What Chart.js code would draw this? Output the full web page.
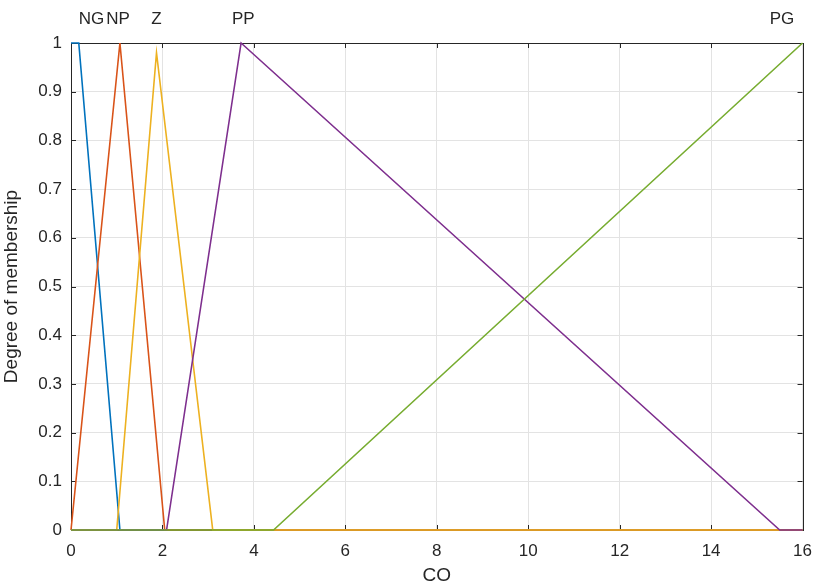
<!DOCTYPE html>
<html><head><meta charset="utf-8">
<script src="https://cdn.jsdelivr.net/npm/chart.js@4/dist/chart.umd.min.js"></script>
<style>html,body{margin:0;padding:0;background:#fff}#wrap{width:823px;height:588px;position:relative}</style>
</head><body><div id="wrap"><canvas id="c" width="823" height="588"></canvas></div>
<script>
// membership function names and their breakpoints (x = CO, y = degree of membership)
const mfNames = ['NG', 'NP', 'Z', 'PP', 'PG'];
const ngX = [0, 0.17, 1.07, 16];        const ngY = [1, 1, 0, 0];
const npX = [0, 1.07, 2.05, 16];        const npY = [0, 1, 0, 0];
const zX  = [0, 1.0, 1.87, 3.1, 16];    const zY  = [0, 0, 0.98, 0, 0];
const ppX = [0, 2.09, 3.72, 15.5, 16];  const ppY = [0, 0, 1, 0, 0];
const pgX = [0, 4.43, 16];              const pgY = [0, 0, 1];
const labelX = [0.45, 1.03, 1.87, 3.77, 15.55];
const xTicks = [0, 2, 4, 6, 8, 10, 12, 14, 16];
const yTicks = [0, 0.1, 0.2, 0.3, 0.4, 0.5, 0.6, 0.7, 0.8, 0.9, 1];
const colors = ['#0072BD', '#D95319', '#EDB120', '#7E2F8E', '#77AC30'];

const xs = [ngX, npX, zX, ppX, pgX];
const ys = [ngY, npY, zY, ppY, pgY];
const FONT = "'Liberation Sans', Arial, Helvetica, sans-serif";
const TXT = '#262626';

const datasets = mfNames.map((n, i) => ({
  label: n,
  data: xs[i].map((x, k) => ({x: x, y: ys[i][k]})),
  borderColor: colors[i],
  backgroundColor: colors[i],
  borderWidth: 1.6,
  pointRadius: 0,
  showLine: true,
  fill: false,
  tension: 0,
  clip: 4,
  order: 5 - i
}));

const boxPlugin = {
  id: 'box',
  beforeDatasetsDraw(chart) {
    const {ctx, chartArea: a, scales: {x, y}} = chart;
    ctx.save();
    ctx.strokeStyle = TXT;
    ctx.lineWidth = 1;
    const L = 5;
    ctx.beginPath();
    xTicks.forEach(v => {
      const px = Math.round(x.getPixelForValue(v)) + 0.5;
      ctx.moveTo(px, a.bottom); ctx.lineTo(px, a.bottom - L);
      ctx.moveTo(px, a.top); ctx.lineTo(px, a.top + L);
    });
    yTicks.forEach(v => {
      const py = Math.round(y.getPixelForValue(v)) + 0.5;
      ctx.moveTo(a.left, py); ctx.lineTo(a.left + L, py);
      ctx.moveTo(a.right, py); ctx.lineTo(a.right - L, py);
    });
    ctx.stroke();
    ctx.strokeRect(Math.round(a.left) + 0.5, Math.round(a.top) + 0.5,
                   Math.round(a.right - a.left), Math.round(a.bottom - a.top));
    ctx.restore();
  },
  afterDraw(chart) {
    const {ctx, scales: {x}} = chart;
    ctx.save();
    ctx.fillStyle = TXT;
    ctx.font = '17px ' + FONT;
    ctx.textAlign = 'center';
    ctx.textBaseline = 'middle';
    mfNames.forEach((n, i) => {
      ctx.fillText(n, x.getPixelForValue(labelX[i]), 19);
    });
    ctx.restore();
  }
};

new Chart(document.getElementById('c'), {
  type: 'scatter',
  data: {datasets},
  plugins: [boxPlugin],
  options: {
    responsive: false,
    animation: false,
    devicePixelRatio: 1,
    layout: {padding: {top: 43, right: 15, left: 0, bottom: 0}},
    plugins: {legend: {display: false}, tooltip: {enabled: false}},
    scales: {
      x: {
        type: 'linear', min: 0, max: 16,
        afterBuildTicks: s => { s.ticks = xTicks.map(v => ({value: v})); },
        afterFit: s => { s.height = 58; },
        grid: {color: '#e3e3e3', drawTicks: false},
        border: {display: false},
        ticks: {color: TXT, font: {family: FONT, size: 17}, padding: 11, maxRotation: 0},
        title: {display: true, text: 'CO', color: TXT, font: {family: FONT, size: 19}, padding: {top: 0, bottom: 1}}
      },
      y: {
        type: 'linear', min: 0, max: 1,
        afterBuildTicks: s => { s.ticks = yTicks.map(v => ({value: v})); },
        afterFit: s => { s.width = 71; },
        grid: {color: '#e3e3e3', drawTicks: false},
        border: {display: false},
        ticks: {color: TXT, font: {family: FONT, size: 17}, padding: 9,
                callback: v => String(Math.round(v * 10) / 10)},
        title: {display: true, text: 'Degree of membership', color: TXT, font: {family: FONT, size: 19}, padding: {top: 0, bottom: 0}}
      }
    }
  }
});
</script>
</body></html>
